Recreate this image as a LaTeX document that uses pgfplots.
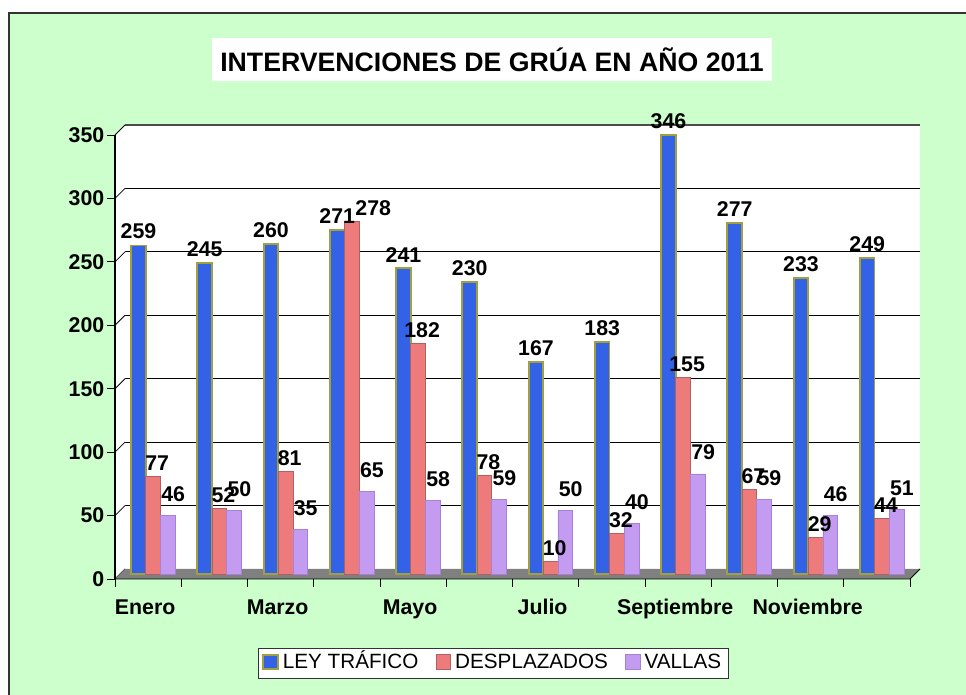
\documentclass[border=0pt]{standalone}
\usepackage{pgfplots}
\pgfplotsset{compat=1.18}
\usepackage{fontspec}
\setmainfont{Liberation Sans}
\definecolor{bg}{HTML}{CCFFCC}
\definecolor{bluemain}{HTML}{3462E6}
\definecolor{olive}{HTML}{A0A040}
\definecolor{redmain}{HTML}{EE7B7B}
\definecolor{redline}{HTML}{B06060}
\definecolor{vmain}{HTML}{C39CF2}
\definecolor{vdark}{HTML}{A880D8}
\definecolor{floorgray}{HTML}{808080}
\pgfplotstableread{
x ley desp vallas
0 259 77 46
1 245 52 50
2 260 81 35
3 271 278 65
4 241 182 58
5 230 78 59
6 167 10 50
7 183 32 40
8 346 155 79
9 277 67 59
10 233 29 46
11 249 44 51
}\datatable
\begin{document}
\begin{tikzpicture}
\useasboundingbox (0,0) rectangle (724.5pt,521.25pt);
\fill[bg] (6.75pt,0) rectangle (724.5pt,511.5pt);
\draw[black!80, line width=1.2pt] (6.75pt,0) -- (6.75pt,511.5pt) -- (724.5pt,511.5pt);
\node[fill=white, inner xsep=6pt, inner ysep=7pt, font=\bfseries\fontsize{20}{23}\selectfont] at (369pt,476.6pt) {INTERVENCIONES DE GRÚA EN AÑO 2011};
\begin{axis}[
  at={(93.75pt,94.5pt)}, anchor=south west,
  scale only axis, width=596.25pt, height=333pt,
  /pgf/number format/assume math mode=true,
  ybar=0pt, bar width=11pt,
  xmin=-0.5, xmax=11.5, ymin=0, ymax=350,
  ytick={0,50,...,350},
  xtick={0,2,...,10},
  xticklabels={Enero,Marzo,Mayo,Julio,Septiembre,Noviembre},
  axis x line*=bottom, axis y line*=left,
  axis line style={draw=none},
  major tick style={draw=none},
  axis background/.style={fill=white},
  ymajorgrids, grid style={black, line width=0.6pt},
  tick label style={font=\bfseries\fontsize{16}{18}\selectfont},
  xticklabel style={xshift=-9.75pt, yshift=-15pt},
  yticklabel style={xshift=-12pt, yshift=-7.5pt},
  nodes near coords,
  every node near coord/.append style={font=\bfseries\fontsize{16}{18}\selectfont, text=black, inner sep=2pt},
  legend style={at={(0.463,-0.2117)}, anchor=center, legend columns=3, draw=black!80, fill=white,
     font=\fontsize{15.5}{17}\selectfont, nodes={text height=11.5pt, text depth=3pt},
     /tikz/every even column/.append style={column sep=11pt},
     /tikz/every odd column/.append style={column sep=1pt}},
  legend image code/.code={\draw[#1] (0pt,-1pt) rectangle (11pt,10pt);},
  clip=false,
]
% white left side wall and gray floor
\fill[white] ([shift={(-7.5pt,-7.5pt)}]axis cs:-0.5,0) -- ([shift={(-7.5pt,-7.5pt)}]axis cs:-0.5,350) -- (axis cs:-0.5,350) -- (axis cs:-0.5,0) -- cycle;
\draw[black!70, line width=0.8pt] (axis cs:-0.5,350) -- (axis cs:11.5,350);
\pgfplotsinvokeforeach{0,50,...,350}{
  \draw[black, line width=0.6pt] ([shift={(-7.5pt,-7.5pt)}]axis cs:-0.5,#1) -- (axis cs:-0.5,#1);
  \draw[black, line width=0.6pt] ([shift={(-7.5pt,-7.5pt)}]axis cs:-0.5,#1) -- ++(-6pt,0pt);
}
\fill[floorgray] ([shift={(-7.5pt,-7.5pt)}]axis cs:-0.5,0) -- ([shift={(-7.5pt,-7.5pt)}]axis cs:11.5,0) -- (axis cs:11.5,0) -- (axis cs:-0.5,0) -- cycle;
\draw[black, line width=0.6pt] ([shift={(-7.5pt,-7.5pt)}]axis cs:-0.5,0) -- ([shift={(-7.5pt,-7.5pt)}]axis cs:11.5,0) -- (axis cs:11.5,0);
\draw[black, line width=0.8pt] ([shift={(-7.5pt,-7.5pt)}]axis cs:-0.5,0) -- ([shift={(-7.5pt,-7.5pt)}]axis cs:-0.5,350);
\pgfplotsinvokeforeach{-0.5,0.5,...,11.5}{
  \draw[black, line width=0.6pt] ([shift={(-7.5pt,-7.5pt)}]axis cs:#1,0) -- ++(0pt,-6pt);
}
\addplot[fill=bluemain, draw=olive, line width=1.4pt, xshift=-3.75pt, yshift=-3.75pt,
  every node near coord/.append style={yshift=2pt}] table[x=x,y=ley] {\datatable};
\addplot[fill=redmain, draw=redline, line width=0.6pt, xshift=-3.75pt, yshift=-3.75pt,
  every node near coord/.append style={xshift=3pt, yshift=2pt},
  coordinate style/.condition={\coordindex==3}{xshift=13pt}] table[x=x,y=desp] {\datatable};
\addplot[fill=vmain, draw=vdark, line width=0.4pt, xshift=-3.75pt, yshift=-3.75pt,
  every node near coord/.append style={xshift=4pt, yshift=8pt}] table[x=x,y=vallas] {\datatable};
\legend{LEY TRÁFICO, DESPLAZADOS, VALLAS}
\end{axis}
\end{tikzpicture}
\end{document}
